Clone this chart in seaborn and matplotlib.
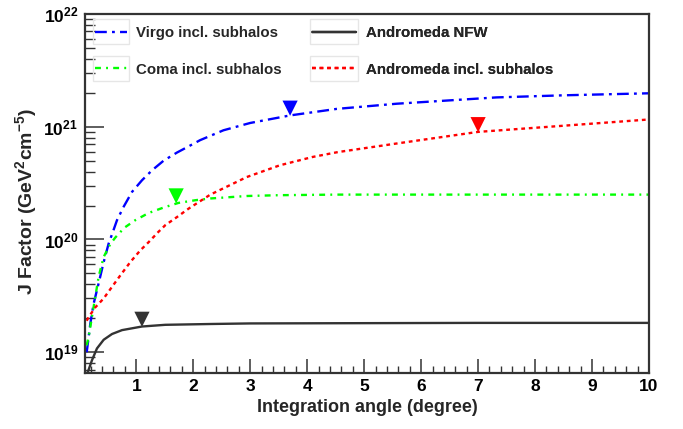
import numpy as np
import pandas as pd
import matplotlib
matplotlib.use("Agg")
import matplotlib.pyplot as plt
import matplotlib.ticker as mticker
import matplotlib.transforms as mtrans
from matplotlib.patches import Rectangle
from matplotlib.lines import Line2D
import seaborn as sns

# ---------------- data ----------------
virgo_x = [0.13, 0.194, 0.252, 0.34, 0.428, 0.515, 0.59, 0.661, 0.778, 0.925, 1.1, 1.275, 1.48, 1.714,
           1.92, 2.12, 2.53, 3.0, 3.7, 4.52, 5.57, 7.32, 8.5, 10.0]
virgo_y = [1.0e19, 1.8e19, 2.7e19, 4.1e19, 6.3e19, 9.2e19, 1.17e20, 1.48e20, 1.95e20, 2.64e20, 3.35e20,
           4.1e20, 5.0e20, 5.9e20, 6.7e20, 7.6e20, 9.3e20, 1.08e21, 1.26e21, 1.44e21, 1.6e21, 1.82e21,
           1.9e21, 1.98e21]

coma_x = [0.13, 0.164, 0.223, 0.281, 0.34, 0.428, 0.544, 0.632, 0.79, 0.98, 1.22, 1.48, 1.74, 2.04, 2.3,
          2.94, 3.5, 4.52, 6.0, 8.0, 10.0]
coma_y = [1.15e19, 1.37e19, 2.07e19, 3.1e19, 4.7e19, 7.0e19, 9.1e19, 1.04e20, 1.27e20, 1.48e20, 1.72e20,
          1.92e20, 2.11e20, 2.23e20, 2.31e20, 2.43e20, 2.47e20, 2.5e20, 2.5e20, 2.5e20, 2.5e20]

andr_sub_x = [0.13, 0.164, 0.281, 0.428, 0.574, 0.72, 0.895, 1.07, 1.22, 1.39, 1.51, 1.714, 1.92, 2.3,
              2.94, 3.52, 4.1, 4.54, 5.57, 7.0, 8.49, 10.0]
andr_sub_y = [1.9e19, 2.05e19, 2.5e19, 3.0e19, 3.8e19, 4.8e19, 6.3e19, 8.0e19, 9.5e19, 1.17e20, 1.34e20,
              1.58e20, 1.88e20, 2.5e20, 3.58e20, 4.55e20, 5.4e20, 5.96e20, 7.1e20, 9.0e20, 1.02e21, 1.16e21]

andr_nfw_x = [0.14, 0.164, 0.223, 0.31, 0.428, 0.574, 0.75, 1.1, 1.51, 2.33, 3.0, 5.0, 7.0, 10.0]
andr_nfw_y = [6.5e18, 7.0e18, 8.5e18, 1.08e19, 1.29e19, 1.45e19, 1.57e19, 1.69e19, 1.75e19, 1.78e19,
              1.80e19, 1.81e19, 1.82e19, 1.82e19]

# triangle markers (x position, curve value at the tip)
marker_x = [3.7, 1.7, 1.1, 7.0]
marker_y = [1.26e21, 2.1e20, 1.69e19, 9.0e20]
marker_names = ["Virgo incl. subhalos", "Coma incl. subhalos", "Andromeda NFW", "Andromeda incl. subhalos"]

series_names = ["Virgo incl. subhalos", "Coma incl. subhalos", "Andromeda NFW", "Andromeda incl. subhalos"]
colors = {"Virgo incl. subhalos": "#0000ff", "Coma incl. subhalos": "#00ff00",
          "Andromeda NFW": "#333333", "Andromeda incl. subhalos": "#ff0000"}
styles = {"Virgo incl. subhalos": (0, (5, 2.2, 1.2, 2.2)),
          "Coma incl. subhalos": (0, (2.5, 2.2, 0.8, 2.2)),
          "Andromeda NFW": "-",
          "Andromeda incl. subhalos": (0, (1.6, 1.6))}

xs = {"Virgo incl. subhalos": virgo_x, "Coma incl. subhalos": coma_x,
      "Andromeda NFW": andr_nfw_x, "Andromeda incl. subhalos": andr_sub_x}
ys = {"Virgo incl. subhalos": virgo_y, "Coma incl. subhalos": coma_y,
      "Andromeda NFW": andr_nfw_y, "Andromeda incl. subhalos": andr_sub_y}

# ---------------- style ----------------
sns.set_style("ticks")
plt.rcParams["font.family"] = ["Liberation Sans", "DejaVu Sans"]
plt.rcParams["font.weight"] = "bold"
plt.rcParams["mathtext.fontset"] = "custom"
plt.rcParams["mathtext.rm"] = "Liberation Sans:bold"
plt.rcParams["mathtext.it"] = "Liberation Sans:bold"
plt.rcParams["mathtext.bf"] = "Liberation Sans:bold"
plt.rcParams["mathtext.default"] = "rm"

fig = plt.figure(figsize=(6.83, 4.29), dpi=100)
ax = fig.add_axes([85 / 683, 1 - 372.5 / 429, (649 - 85) / 683, (372.5 - 14) / 429])

for name in series_names:
    df = pd.DataFrame({"x": xs[name], "y": ys[name]})
    sns.lineplot(data=df, x="x", y="y", ax=ax, color=colors[name], linestyle=styles[name],
                 linewidth=1.7, estimator=None, sort=True, legend=False)

ax.set_yscale("log")
ax.set_xlim(0.1, 10)
ax.set_ylim(10 ** 18.82, 1e22)

# markers: downward triangles whose tips touch the curves
mdf = pd.DataFrame({"x": marker_x, "y": marker_y, "name": marker_names})
off = mtrans.offset_copy(ax.transData, fig=fig, x=0, y=5.2, units="points")
for _, r in mdf.iterrows():
    sns.scatterplot(x=[r["x"]], y=[r["y"]], ax=ax, marker="v", s=120, color=colors[r["name"]],
                    edgecolor="none", legend=False, zorder=5)
    ax.collections[-1].set_offset_transform(off)

# ticks
ax.xaxis.set_major_locator(mticker.MultipleLocator(1))
ax.xaxis.set_minor_locator(mticker.MultipleLocator(0.2))
ax.yaxis.set_major_locator(mticker.LogLocator(base=10, numticks=10))
ax.yaxis.set_minor_locator(mticker.LogLocator(base=10, subs=np.arange(2, 10), numticks=20))
ax.yaxis.set_minor_formatter(mticker.NullFormatter())
ax.yaxis.set_major_formatter(mticker.FuncFormatter(lambda v, p: r"$10^{%d}$" % int(round(np.log10(v)))))
ax.xaxis.set_major_formatter(mticker.FuncFormatter(lambda v, p: "%d" % v if v >= 1 else ""))

ax.tick_params(axis="x", which="major", direction="in", length=10, width=1.1, labelsize=12.5, pad=5)
ax.tick_params(axis="x", which="minor", direction="in", length=5, width=1.0)
ax.tick_params(axis="y", which="major", direction="in", length=14, width=1.1, labelsize=12.5, pad=5)
ax.tick_params(axis="y", which="minor", direction="in", length=7, width=1.0)
ax.tick_params(top=False, right=False, which="both", colors="#333333", labelcolor="black")
for s in ax.spines.values():
    s.set_linewidth(1.6)
    s.set_color("#333333")

ax.set_xlabel("Integration angle (degree)", fontsize=13, fontweight="bold", labelpad=3)
ax.set_ylabel(r"J Factor (GeV$^{2}$cm$^{-5}$)", fontsize=14, fontweight="bold")
ax.yaxis.set_label_coords(-0.082, 0.476)

# legend: two columns, handles in light boxes
col1 = ["Virgo incl. subhalos", "Coma incl. subhalos"]
col2 = ["Andromeda NFW", "Andromeda incl. subhalos"]
legprop = {"weight": "bold", "size": 10.8, "family": "Liberation Sans"}


def make_legend(names, xanchor, hlen, tpad):
    hs = [Line2D([], [], color=colors[n], linestyle=styles[n], linewidth=1.7) for n in names]
    lg = ax.legend(hs, names, loc="upper left", bbox_to_anchor=(xanchor, 0.966),
                   frameon=False, handlelength=hlen, handletextpad=tpad, borderpad=0,
                   borderaxespad=0, labelspacing=1.5, prop=legprop)
    ax.add_artist(lg)
    return lg


leg1 = make_legend(col1, (95 - 85) / 564, 2.15, 0.6)
leg2 = make_legend(col2, (312 - 85) / 564, 2.95, 0.65)

fig.canvas.draw()
renderer = fig.canvas.get_renderer()
inv = fig.transFigure.inverted()
for lg in (leg1, leg2):
    for h in lg.legend_handles:
        bb = h.get_window_extent(renderer)
        cy = (bb.y0 + bb.y1) / 2
        x0, x1 = bb.x0 - 2, bb.x1 + 2
        y0, y1 = cy - 12.5, cy + 12.5
        (fx0, fy0) = inv.transform((x0, y0))
        (fx1, fy1) = inv.transform((x1, y1))
        fig.add_artist(Rectangle((fx0, fy0), fx1 - fx0, fy1 - fy0, transform=fig.transFigure,
                                 fill=False, edgecolor="#e6e6e6", linewidth=1.0, zorder=1))

fig.savefig("out.png", dpi=100)
